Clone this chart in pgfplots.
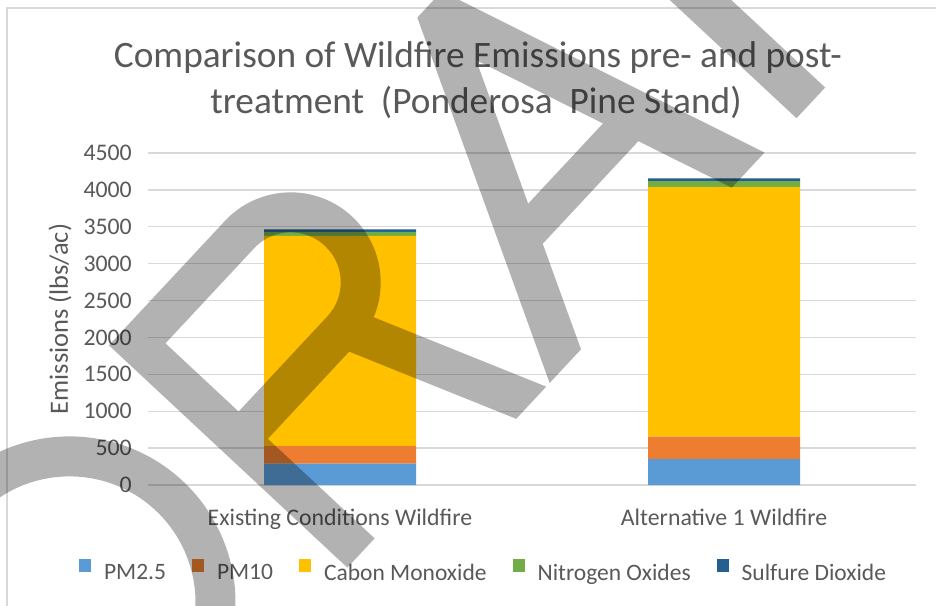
\documentclass[border=0pt]{standalone}
\usepackage{fontspec}
\setmainfont{Carlito}
\usepackage{pgfplots}
\pgfplotsset{compat=1.18}
\definecolor{txt}{HTML}{595959}
\definecolor{gridc}{HTML}{D9D9D9}
\definecolor{cPMa}{HTML}{5B9BD5}
\definecolor{cPMb}{HTML}{ED7D31}
\definecolor{cCO}{HTML}{FFC000}
\definecolor{cNOx}{HTML}{70AD47}
\definecolor{cSO}{HTML}{255E91}
\begin{document}
\begin{tikzpicture}
\useasboundingbox (0bp,0bp) rectangle (936bp,-606bp);
\begin{scope}[x=1bp,y=-1bp]
\fill[white] (0,0) rectangle (936,606);
\draw[gridc, line width=1.3bp] (7,700) -- (7,8) -- (1000,8);
\node[anchor=base, inner sep=0pt, font=\fontsize{37.3bp}{44bp}\selectfont, text=txt] at (478,67) {Comparison of Wildfire Emissions pre- and post-};
\node[anchor=base, inner sep=0pt, font=\fontsize{37.3bp}{44bp}\selectfont, text=txt] at (476,113) {treatment\ \ (Ponderosa\ \ Pine Stand)};
\end{scope}
\begin{axis}[
 at={(148bp,-485bp)}, anchor=south west,
 width=768bp, height=332bp, scale only axis,
 ybar stacked, bar width=152bp,
 xmin=-0.5, xmax=1.5, ymin=0, ymax=4500,
 xtick={0,1}, xticklabels={Existing Conditions Wildfire, Alternative 1 Wildfire},
 ytick={0,500,...,4500},
 ymajorgrids, grid style={draw=gridc, line width=1.3bp},
 axis line style={draw=none}, major tick length=0pt, tick style={draw=none},
 /pgf/number format/assume math mode=true,
 /pgf/number format/1000 sep={},
 tick label style={font=\fontsize{23.8bp}{28bp}\selectfont, text=txt},
 yticklabel style={anchor=east, inner sep=0pt, xshift=-16bp},
 xticklabel style={anchor=base, inner sep=0pt, yshift=-40bp},
 ylabel={Emissions (lbs/ac)},
 ylabel style={font=\fontsize{26.4bp}{30bp}\selectfont, text=txt, at={(axis description cs:-0.1144,0.5)}, anchor=center},
 legend columns=5,
 legend style={at={(axis description cs:0.4356,-0.2575)}, anchor=center, draw=none, fill=none,
   font=\fontsize{23.5bp}{28bp}\selectfont, text=txt, inner sep=0pt, column sep=0pt,
   /tikz/every odd column/.append style={column sep=13bp},
   /tikz/every even column/.append style={column sep=26bp},
   nodes={inner sep=0pt}},
 legend image code/.code={\fill[#1] (0bp,1bp) rectangle (12bp,14bp);},
]
\addplot[fill=cPMa, draw=none] coordinates {(0,289) (1,350)};
\addplot[fill=cPMb, draw=none] coordinates {(0,239) (1,305)};
\addplot[fill=cCO, draw=none] coordinates {(0,2850) (1,3385)};
\addplot[fill=cNOx, draw=none] coordinates {(0,54) (1,80)};
\addplot[fill=cSO, draw=none] coordinates {(0,33) (1,36)};
\legend{PM2.5, PM10, Cabon Monoxide, Nitrogen Oxides, Sulfure Dioxide}
\end{axis}
% DRAFT watermark
\begin{scope}[transparency group, opacity=0.3]
\clip (0bp,0bp) rectangle (936bp,-606bp);
\begin{scope}[x=1bp,y=-1bp]
\draw[black, line width=40bp] (69.5,602.4) ++(220:146) arc[start angle=220, end angle=405, radius=146];
\end{scope}
\begin{scope}[shift={(361bp,-553bp)}, rotate=47, x=1bp, y=1bp]
% R
\draw[black, line width=40bp, line join=miter, miter limit=10] (0,0) -- (0,306) -- (150,306) arc[start angle=90, end angle=-90, radius=70] -- (0,166);
\fill[black] (128,175) -- (172,175) -- (248,-22) -- (204,-22) -- cycle;
% A
\fill[black, even odd rule] (253,-22) -- (430,324) -- (466,324) -- (568,-22) -- (520,-22) -- (439,252) -- (299,-22) -- cycle;
\fill[black] (350,78) -- (495,78) -- (495,116) -- (350,116) -- cycle;
% F
\fill[black] (615,-22) -- (657,-22) -- (657,330) -- (615,330) -- cycle;
\fill[black] (657,290) -- (800,290) -- (800,330) -- (657,330) -- cycle;
\fill[black] (657,150) -- (770,150) -- (770,190) -- (657,190) -- cycle;
\end{scope}
\end{scope}
\end{tikzpicture}
\end{document}
